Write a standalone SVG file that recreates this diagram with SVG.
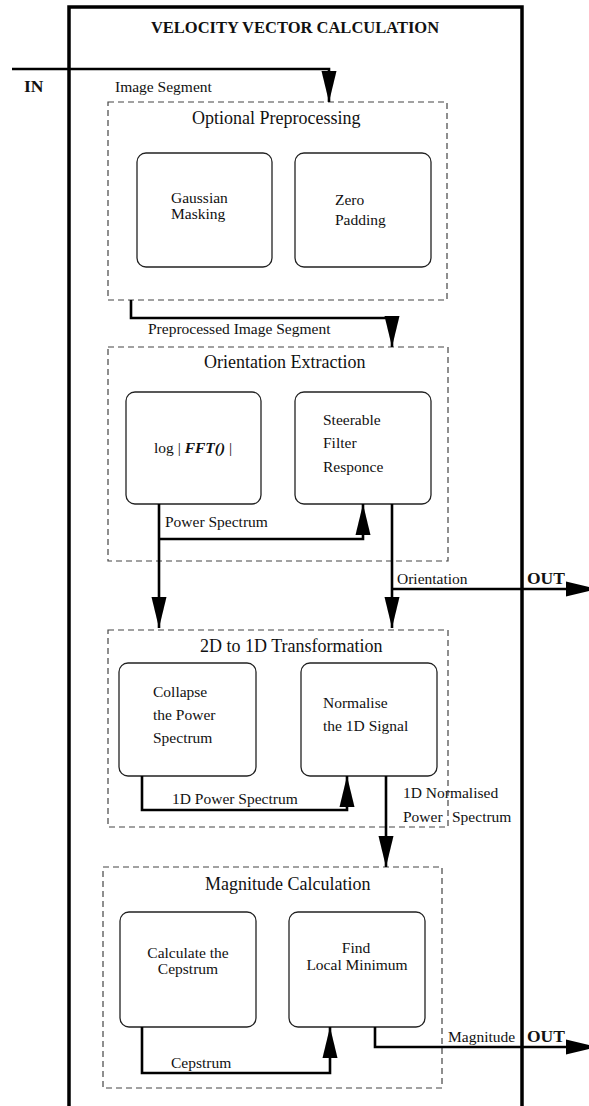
<svg xmlns="http://www.w3.org/2000/svg" width="589" height="1106" viewBox="0 0 589 1106">
  <style>
    .frame { fill: none; stroke: #000; stroke-width: 3.5; }
    .stage { fill: none; stroke: #444; stroke-width: 1.2; stroke-dasharray: 6 4; }
    .node { fill: #fff; stroke: #222; stroke-width: 1.3; }
    .wire { fill: none; stroke: #000; stroke-width: 2.6; }
    text { font-family: "Liberation Serif", "Times New Roman", serif; fill: #111; }
    .lbl { font-size: 15.5px; }
    .ttl { font-size: 18px; }
    .big { font-size: 17.5px; font-weight: bold; }
    .mid { text-anchor: middle; }
  </style>
  <defs>
    <!-- long narrow arrowhead; tip sits on the path end -->
    <marker id="ah" markerUnits="userSpaceOnUse" markerWidth="33" markerHeight="16" refX="31" refY="7.5" orient="auto" overflow="visible">
      <path d="M0,0 L31,7.5 L0,15 Z" fill="#000"/>
    </marker>
  </defs>

  <rect width="589" height="1106" fill="#fff"/>

  <!-- outer system frame -->
  <g id="system">
    <rect class="frame" x="69" y="7" width="453" height="1130"/>
    <text x="295" y="33" class="mid" style="font-size:16.5px;font-weight:bold">VELOCITY VECTOR CALCULATION</text>
    <text x="24" y="92" class="big">IN</text>
  </g>

  <!-- stage 1 -->
  <g id="preprocessing">
    <rect class="stage" x="108" y="102" width="339" height="198"/>
    <text x="192" y="124" class="ttl">Optional Preprocessing</text>
  </g>
  <g id="gaussian-masking">
    <rect class="node" x="137" y="153" width="135" height="114" rx="9"/>
    <text x="171" y="203" class="lbl">Gaussian</text>
    <text x="171" y="219" class="lbl">Masking</text>
  </g>
  <g id="zero-padding">
    <rect class="node" x="295" y="153" width="136" height="114" rx="9"/>
    <text x="335" y="205" class="lbl">Zero</text>
    <text x="335" y="225" class="lbl">Padding</text>
  </g>

  <!-- stage 2 -->
  <g id="orientation-extraction">
    <rect class="stage" x="108" y="347" width="340" height="214"/>
    <text x="204" y="368" class="ttl">Orientation Extraction</text>
  </g>
  <g id="log-fft">
    <rect class="node" x="126" y="392" width="135" height="112" rx="9"/>
    <text x="154" y="453" class="lbl">log |<tspan style="font-weight:bold;font-style:italic"> FFT()</tspan> |</text>
  </g>
  <g id="steerable-filter">
    <rect class="node" x="295" y="392" width="136" height="112" rx="9"/>
    <text x="323" y="425" class="lbl">Steerable</text>
    <text x="323" y="448" class="lbl">Filter</text>
    <text x="323" y="472" class="lbl">Responce</text>
  </g>

  <!-- stage 3 -->
  <g id="transformation">
    <rect class="stage" x="108" y="630" width="340" height="197"/>
    <text x="200" y="652" class="ttl">2D to 1D Transformation</text>
  </g>
  <g id="collapse">
    <rect class="node" x="119" y="663" width="137" height="113" rx="9"/>
    <text x="153" y="697" class="lbl">Collapse</text>
    <text x="153" y="720" class="lbl">the Power</text>
    <text x="153" y="743" class="lbl">Spectrum</text>
  </g>
  <g id="normalise">
    <rect class="node" x="301" y="663" width="136" height="113" rx="9"/>
    <text x="323" y="708" class="lbl">Normalise</text>
    <text x="323" y="731" class="lbl">the 1D Signal</text>
  </g>

  <!-- stage 4 -->
  <g id="magnitude-calculation">
    <rect class="stage" x="103" y="867" width="339" height="221"/>
    <text x="205" y="890" class="ttl">Magnitude Calculation</text>
  </g>
  <g id="cepstrum">
    <rect class="node" x="120" y="912" width="136" height="115" rx="9"/>
    <text x="188" y="958" class="lbl mid">Calculate the</text>
    <text x="188" y="974" class="lbl mid">Cepstrum</text>
  </g>
  <g id="local-minimum">
    <rect class="node" x="289" y="912" width="136" height="115" rx="9"/>
    <text x="356" y="953" class="lbl mid">Find</text>
    <text x="357" y="970" class="lbl mid">Local Minimum</text>
  </g>

  <!-- data flow -->
  <g id="connectors">
    <path class="wire" d="M12,69 H329 V102" marker-end="url(#ah)"/>
    <path class="wire" d="M131,300 V318 H392 V347" marker-end="url(#ah)"/>
    <path class="wire" d="M159,504 V628" marker-end="url(#ah)"/>
    <path class="wire" d="M159,539 H363 V504" marker-end="url(#ah)"/>
    <path class="wire" d="M392,504 V628" marker-end="url(#ah)"/>
    <path class="wire" d="M392,589 H597" marker-end="url(#ah)"/>
    <path class="wire" d="M142,776 V810 H347 V776" marker-end="url(#ah)"/>
    <path class="wire" d="M386,776 V867" marker-end="url(#ah)"/>
    <path class="wire" d="M142,1027 V1073 H330 V1027" marker-end="url(#ah)"/>
    <path class="wire" d="M375,1027 V1047 H597" marker-end="url(#ah)"/>
  </g>

  <!-- flow labels -->
  <g id="labels">
    <text x="115" y="92" class="lbl">Image Segment</text>
    <text x="148" y="334" class="lbl">Preprocessed Image Segment</text>
    <text x="165" y="527" class="lbl">Power Spectrum</text>
    <text x="397" y="584" class="lbl">Orientation</text>
    <text x="527" y="584" class="big">OUT</text>
    <text x="172" y="804" class="lbl">1D Power Spectrum</text>
    <text x="403" y="798" class="lbl">1D Normalised</text>
    <text x="403" y="822" class="lbl">Power</text>
    <text x="452" y="822" class="lbl">Spectrum</text>
    <text x="171" y="1068" class="lbl">Cepstrum</text>
    <text x="448" y="1042" class="lbl">Magnitude</text>
    <text x="527" y="1042" class="big">OUT</text>
  </g>
</svg>
